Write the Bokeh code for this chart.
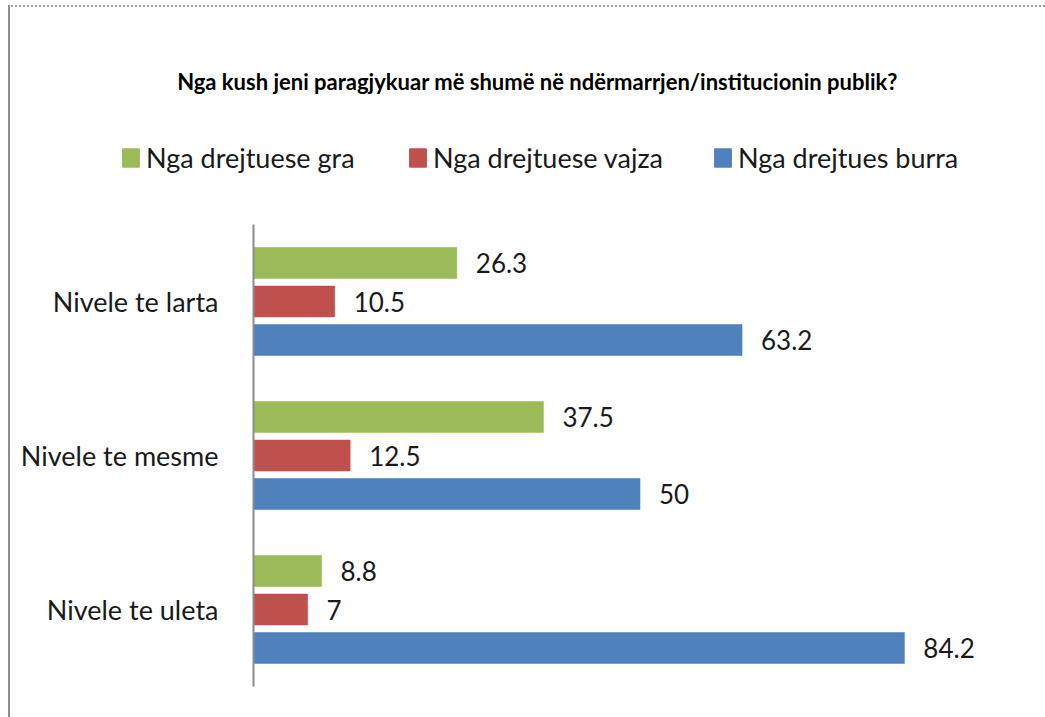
import numpy as np
from bokeh.plotting import figure
from bokeh.layouts import column
from bokeh.models import (ColumnDataSource, FactorRange, LabelSet, Label, Legend, LegendItem, Range1d)
from bokeh.core.properties import value
from bokeh.transform import dodge
from bokeh.embed import file_html
from bokeh.resources import INLINE

title = "Nga kush jeni paragjykuar më shumë në ndërmarrjen/institucionin publik?"
categories = ["Nivele te larta", "Nivele te mesme", "Nivele te uleta"]
series_names = ["Nga drejtuese gra", "Nga drejtuese vajza", "Nga drejtues burra"]
gra = [26.3, 37.5, 8.8]
vajza = [10.5, 12.5, 7]
burra = [63.2, 50, 84.2]
colors = ["#9BBB59", "#C0504D", "#4F81BD"]

FONT = "Lato"
W = 1035
H_TOP = 193
H_MAIN = 517

src = ColumnDataSource(dict(cat=categories, gra=gra, vajza=vajza, burra=burra,
                            gra_t=[str(v) for v in gra],
                            vajza_t=[str(v) for v in vajza],
                            burra_t=[str(v) for v in burra]))

# ---- main chart ----
p = figure(width=W, height=H_MAIN, output_backend="svg", toolbar_location=None,
           y_range=FactorRange(*reversed(categories), range_padding=0),
           x_range=(0, 100), frame_align=False,
           min_border_left=243, min_border_right=19, min_border_top=24, min_border_bottom=31)
p.outline_line_color = None
p.grid.visible = False
p.xaxis.visible = False
p.yaxis.axis_line_color = "#8c8c8c"
p.yaxis.axis_line_width = 2
p.yaxis.major_tick_line_color = None
p.yaxis.minor_tick_line_color = None
p.yaxis.major_label_standoff = 29
p.yaxis.major_label_text_font = FONT
p.yaxis.major_label_text_font_size = "27px"
p.yaxis.major_label_text_color = "#1a1a1a"

offsets = [0.25, 0.0, -0.25]
keys = ["gra", "vajza", "burra"]
for k, off, c in zip(keys, offsets, colors):
    p.hbar(y=dodge("cat", off, range=p.y_range), right=k, left=0, height=0.2,
           source=src, fill_color=c, line_color=c, line_alpha=0.6)
    p.add_layout(LabelSet(x=k, y=dodge("cat", off, range=p.y_range), text=k + "_t",
                          source=src, x_offset=19, text_baseline="middle",
                          text_font=value(FONT), text_font_size="26px",
                          text_color="#1a1a1a"))

# ---- header: title + legend ----
top = figure(width=W, height=H_TOP, output_backend="svg", toolbar_location=None,
             x_range=Range1d(0, 1), y_range=Range1d(0, 1), frame_align=False,
             min_border=0, min_border_left=0, min_border_right=0,
             min_border_top=0, min_border_bottom=0)
top.axis.visible = False
top.grid.visible = False
top.outline_line_color = None

top.add_layout(Label(x=527, y=H_TOP - 74, x_units="screen", y_units="screen", text=title,
                     text_align="center", text_baseline="middle", text_font=FONT,
                     text_font_style="bold", text_font_size="22px", text_color="#000000"))

leg_x = [110, 397, 702]
for name, c, lx in zip(series_names, colors, leg_x):
    # legend key only: NaN data draws no bar
    r = top.hbar(y=[np.nan], right=[np.nan], left=0, height=0.2, fill_color=c, line_color=c)
    lg = Legend(items=[LegendItem(label=name, renderers=[r])], location=(lx, 26),
                orientation="horizontal", glyph_width=21, glyph_height=23,
                label_height=30, label_standoff=5, padding=0, margin=0,
                border_line_color=None, background_fill_alpha=0,
                label_text_font=FONT, label_text_font_size="27px",
                label_text_color="#1a1a1a")
    top.add_layout(lg, "center")

layout = column(top, p, spacing=0, margin=(5, 0, 0, 8),
                styles={"border-left": "2px solid #8c8c8c", "border-top": "2px dotted #a0a0a0"})

open("out.html", "w").write(file_html(layout, INLINE))
